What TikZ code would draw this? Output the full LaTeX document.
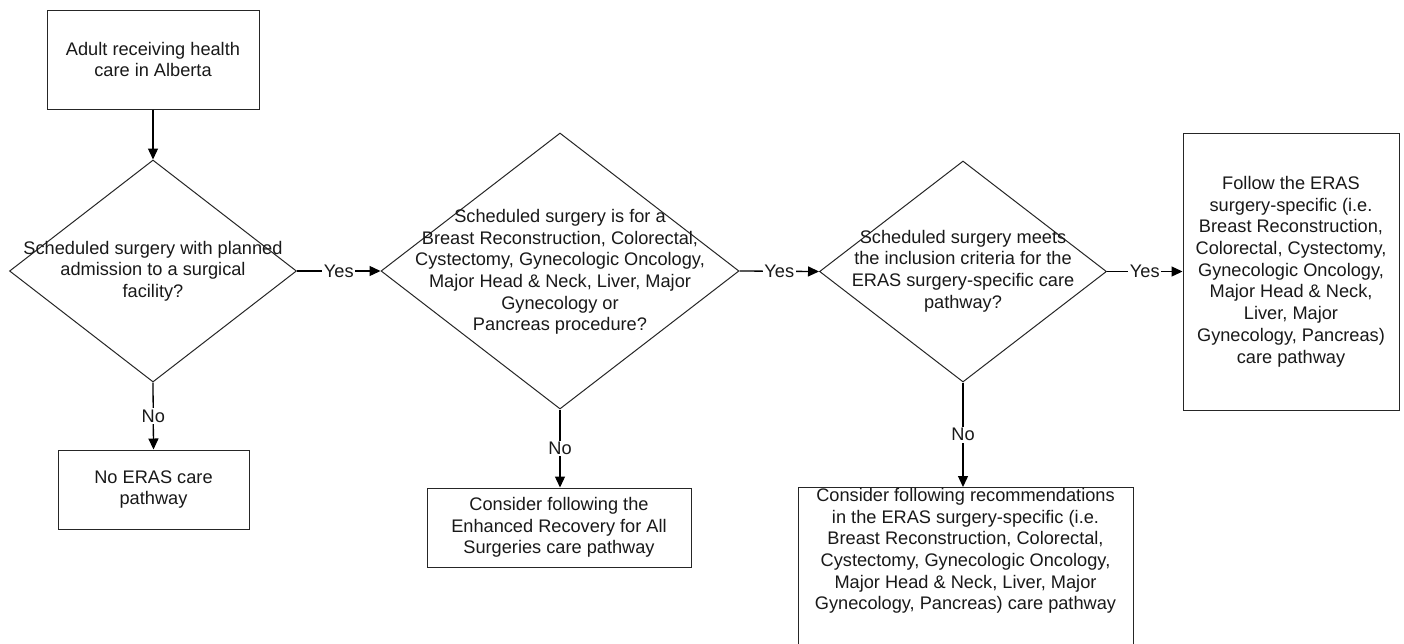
\documentclass[tikz,border=0pt]{standalone}
\usepackage{fontspec}
\setmainfont{Liberation Sans}
\usetikzlibrary{arrows.meta,shapes.geometric}
\tikzset{
  base/.style={font=\fontsize{18.2}{21.7}\selectfont, text=black!90},
  procbox/.style={draw=black!85, line width=1pt, rectangle, inner sep=0pt},
  decision/.style={draw=black!85, line width=1pt, diamond, inner sep=0pt, aspect=1},
  txt/.style={base, align=center, inner sep=0pt},
  conn/.style={line width=1.3pt, -{Triangle[length=11pt,width=10pt]}},
  lbl/.style={base, fill=white, inner sep=1.5pt}
}
\begin{document}
\begin{tikzpicture}[x=1pt,y=-1pt]
\clip (0,0) rectangle (1404,643);
\fill[white] (0,0) rectangle (1404,643);
% boxes
\node[procbox, minimum width=212pt, minimum height=99pt] (b1) at (153,59.5) {};
\node[txt] (t1) at (b1.center) {Adult receiving health\\care in Alberta};
% diamonds
\node[decision, minimum width=287pt, minimum height=222pt] (d1) at (153,271) {};
\node[txt] (td1) at (153,271) {Scheduled surgery with planned\\admission to a surgical\\facility?};
\node[procbox, minimum width=191pt, minimum height=79pt] (b2) at (153.5,489.5) {};
\node[txt] (t2) at (b2.center) {No ERAS care\\pathway};
\node[decision, minimum width=358pt, minimum height=276pt] (d2) at (560,271) {};
\node[txt] (td2) at (560,272) {Scheduled surgery is for a\\Breast Reconstruction, Colorectal,\\Cystectomy, Gynecologic Oncology,\\Major Head \& Neck, Liver, Major\\Gynecology or\\Pancreas procedure?};
\node[procbox, minimum width=264pt, minimum height=79pt] (b3) at (559,527.5) {};
\node[txt] (t3) at (b3.center) {Consider following the\\Enhanced Recovery for All\\Surgeries care pathway};
\node[decision, minimum width=287pt, minimum height=221pt] (d3) at (963,271.5) {};
\node[txt] (td3) at (963,271) {Scheduled surgery meets\\the inclusion criteria for the\\ERAS surgery-specific care\\pathway?};
\node[procbox, minimum width=335pt, minimum height=180pt, anchor=north] (b4) at (965.5,487) {};
\node[txt] (t4) at (965.5,551) {Consider following recommendations\\in the ERAS surgery-specific (i.e.\\Breast Reconstruction, Colorectal,\\Cystectomy, Gynecologic Oncology,\\Major Head \& Neck, Liver, Major\\Gynecology, Pancreas) care pathway};
\node[procbox, minimum width=216pt, minimum height=277pt] (b5) at (1291,271.5) {};
\node[txt] (t5) at (b5.center) {Follow the ERAS\\surgery-specific (i.e.\\Breast Reconstruction,\\Colorectal, Cystectomy,\\Gynecologic Oncology,\\Major Head \& Neck,\\Liver, Major\\Gynecology, Pancreas)\\care pathway};
% connectors
\draw[conn] (b1.south) -- (d1.north);
\draw[conn] (d1.south) -- node[lbl] {No} (b2.north);
\draw[conn] (d1.east) -- node[lbl] {Yes} (d2.west);
\draw[conn] (d2.south) -- node[lbl] {No} (d2.south |- b3.north);
\draw[conn] (d2.east) -- node[lbl] {Yes} (d3.west);
\draw[conn] (d3.south) -- node[lbl] {No} (d3.south |- b4.north);
\draw[conn] (d3.east) -- node[lbl] {Yes} (b5.west);
\end{tikzpicture}
\end{document}
